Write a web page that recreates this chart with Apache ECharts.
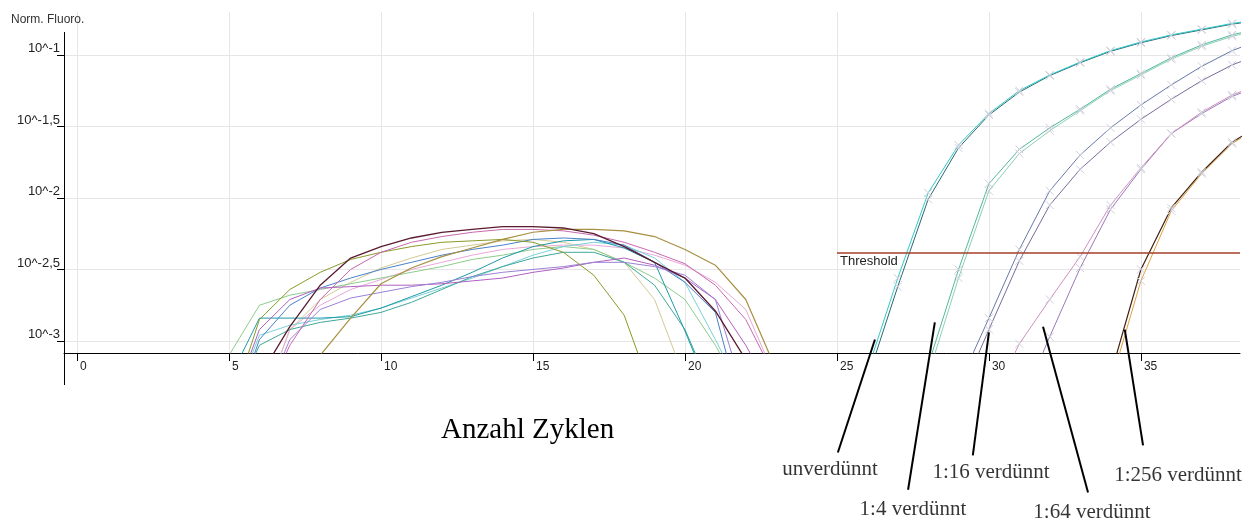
<!DOCTYPE html>
<html><head><meta charset="utf-8">
<script src="https://cdn.jsdelivr.net/npm/echarts@6/dist/echarts.min.js"></script>
<style>html,body{margin:0;padding:0;background:#fff}#c{width:1254px;height:520px}</style>
</head><body><div id="c"></div>
<script>
// ---- tick values / labels ----
const xTicks = [0, 5, 10, 15, 20, 25, 30, 35];
const yTicks = [-3, -2.5, -2, -1.5, -1];
const yTickLabels = ['10^-3', '10^-2,5', '10^-2', '10^-1,5', '10^-1'];

// ---- non-specific (negative) curves, log10 fluorescence at cycles 5..23 ----
const humpCycles = [5, 6, 7, 8, 9, 10, 11, 12, 13, 14, 15, 16, 17, 18, 19, 20, 21, 22, 23];
const neg01 = [null, -3.25, -2.90, -2.61, -2.42, -2.34, -2.28, -2.24, -2.22, -2.20, -2.20, -2.21, -2.25, -2.34, -2.45, -2.56, -2.79, -3.13, null];
const neg02 = [null, null, null, -3.10, -2.84, -2.60, -2.49, -2.41, -2.35, -2.29, -2.24, -2.22, -2.22, -2.23, -2.27, -2.36, -2.47, -2.71, -3.20];
const neg03 = [null, -3.50, -3.03, -2.71, -2.50, -2.38, -2.31, -2.27, -2.24, -2.22, -2.22, -2.23, -2.26, -2.31, -2.38, -2.46, -2.61, -2.85, -3.27];
const neg04 = [-3.50, -2.85, -2.64, -2.52, -2.43, -2.38, -2.34, -2.31, -2.30, -2.29, -2.31, -2.38, -2.54, -2.82, -3.41, null, null, null, null];
const neg05 = [null, -3.50, -2.92, -2.71, -2.59, -2.49, -2.42, -2.36, -2.33, -2.30, -2.29, -2.31, -2.36, -2.45, -2.71, -3.27, null, null, null];
const neg06 = [-3.27, -2.84, -2.84, -2.84, -2.83, -2.77, -2.69, -2.61, -2.52, -2.42, -2.34, -2.30, -2.29, -2.35, -2.45, -2.93, -3.45, null, null];
const neg07 = [-3.50, -2.96, -2.89, -2.85, -2.82, -2.77, -2.70, -2.63, -2.56, -2.48, -2.40, -2.34, -2.31, -2.33, -2.42, -2.59, -2.99, -3.41, null];
const neg08 = [-3.60, -2.99, -2.75, -2.63, -2.56, -2.50, -2.45, -2.40, -2.36, -2.33, -2.29, -2.28, -2.29, -2.33, -2.45, -2.59, -2.80, -3.60, null];
const neg09 = [-3.50, -2.92, -2.71, -2.63, -2.62, -2.61, -2.61, -2.60, -2.58, -2.56, -2.52, -2.49, -2.45, -2.42, -2.47, -2.56, -2.71, -3.03, -3.41];
const neg10 = [null, -3.50, -2.99, -2.78, -2.70, -2.66, -2.62, -2.59, -2.55, -2.52, -2.50, -2.48, -2.45, -2.45, -2.48, -2.54, -2.71, -3.41, null];
const neg11 = [-3.10, -2.75, -2.68, -2.64, -2.60, -2.56, -2.52, -2.48, -2.43, -2.40, -2.36, -2.34, -2.36, -2.45, -2.56, -2.71, -3.03, -3.41, null];
const neg12 = [-3.50, -3.03, -2.92, -2.87, -2.84, -2.80, -2.73, -2.64, -2.55, -2.48, -2.42, -2.38, -2.38, -2.45, -2.61, -2.92, -3.41, null, null];
const neg13 = [null, -3.50, -2.92, -2.75, -2.64, -2.57, -2.50, -2.45, -2.40, -2.36, -2.34, -2.33, -2.33, -2.35, -2.40, -2.47, -2.59, -2.78, -3.27];

// ---- dilution series, log10 fluorescence at cycles 25..39 ----
const ampCycles = [25, 26, 27, 28, 29, 30, 31, 32, 33, 34, 35, 36, 37, 38, 39];
const undilA = [-3.60, -3.21, -2.56, -1.965, -1.63, -1.41, -1.25, -1.14, -1.05, -0.97, -0.91, -0.86, -0.82, -0.78, -0.75];
const undilB = [-3.70, -3.27, -2.62, -2.01, -1.65, -1.42, -1.26, -1.145, -1.055, -0.975, -0.915, -0.865, -0.825, -0.785, -0.755];
const dil4A = [null, null, -3.70, -3.17, -2.50, -1.90, -1.66, -1.51, -1.38, -1.24, -1.13, -1.02, -0.93, -0.86, -0.81];
const dil4B = [null, null, -3.80, -3.24, -2.56, -1.95, -1.69, -1.53, -1.39, -1.25, -1.14, -1.03, -0.94, -0.87, -0.82];
const dil16A = [null, null, null, -3.80, -3.31, -2.84, -2.36, -1.95, -1.70, -1.51, -1.35, -1.21, -1.08, -0.97, -0.89];
const dil16B = [null, null, null, -3.90, -3.41, -2.92, -2.44, -2.05, -1.80, -1.61, -1.45, -1.31, -1.18, -1.07, -0.99];
const dil64A = [null, null, null, null, null, -3.45, -3.02, -2.71, -2.41, -2.05, -1.79, -1.55, -1.40, -1.28, -1.20];
const dil64B = [null, null, null, null, null, -3.90, -3.47, -2.97, -2.49, -2.08, -1.80, -1.55, -1.41, -1.29, -1.21];
const dil256A = [null, null, null, null, null, null, null, null, -3.60, -3.24, -2.50, -2.07, -1.82, -1.61, -1.48];
const dil256B = [null, null, null, null, null, null, null, null, -3.70, -3.30, -2.58, -2.09, -1.83, -1.62, -1.49];

// ---- threshold ----
const thresholdValue = -2.38;
const thresholdStartCycle = 25;

// ---- annotations (data units) ----
const annotLabels = ['unverdünnt', '1:4 verdünnt', '1:16 verdünnt', '1:64 verdünnt', '1:256 verdünnt'];
const annotTipX = [26.25, 28.22, 30.0, 31.78, 34.47];
const annotTipY = [-2.99, -2.87, -2.94, -2.90, -2.92];
const annotBaseX = [25.03, 27.34, 29.47, 33.26, 35.07];
const annotBaseY = [-3.78, -4.04, -3.80, -4.06, -3.73];
const annotTextX = [24.77, 27.50, 30.07, 33.39, 36.22];
const annotTextY = [-3.90, -4.18, -3.92, -4.20, -3.94];

const X_MIN = -0.43, X_MAX = 38.26, Y_MIN = -3.084, Y_MAX = -0.70;
const XMARK = 'path://M0 0L10 10M10 0L0 10';

function pts(cycles, vals) {
  const out = [];
  cycles.forEach((c, i) => { if (vals[i] !== null) out.push([c, vals[i]]); });
  return out;
}
function curve(cycles, vals, color, width, markers) {
  return {
    type: 'line', data: pts(cycles, vals), silent: true, animation: false,
    showSymbol: !!markers, showAllSymbol: true, symbol: XMARK, symbolSize: 8,
    itemStyle: { color: 'rgba(0,0,0,0)', borderColor: '#cfcfdc', borderWidth: 1 },
    lineStyle: { color: color, width: width }, z: 3
  };
}

const series = [
  curve(humpCycles, neg05, '#d2ca94', 1),
  curve(humpCycles, neg13, '#e8a8d8', 1),
  curve(humpCycles, neg11, '#8ccc8c', 1),
  curve(humpCycles, neg07, '#78d0d8', 1),
  curve(humpCycles, neg12, '#40a898', 1),
  curve(humpCycles, neg06, '#1e9aa8', 1),
  curve(humpCycles, neg08, '#4a80c8', 1),
  curve(humpCycles, neg09, '#b060c0', 1),
  curve(humpCycles, neg10, '#9a80d8', 1),
  curve(humpCycles, neg04, '#8a9a28', 1),
  curve(humpCycles, neg03, '#c868b0', 1),
  curve(humpCycles, neg02, '#a89040', 1.2),
  curve(humpCycles, neg01, '#5a1a30', 1.3),
  curve(ampCycles, undilB, '#2a6a70', 1, true),
  curve(ampCycles, undilA, '#30c8c8', 1, true),
  curve(ampCycles, dil4B, '#90d0b0', 1, true),
  curve(ampCycles, dil4A, '#50b8a0', 1, true),
  curve(ampCycles, dil16B, '#7a6a9a', 1, true),
  curve(ampCycles, dil16A, '#6878a8', 1, true),
  curve(ampCycles, dil64B, '#9a78b8', 1, true),
  curve(ampCycles, dil64A, '#d090c0', 1, true),
  curve(ampCycles, dil256B, '#e0a040', 1, true),
  curve(ampCycles, dil256A, '#402010', 1.2, true),
  {
    type: 'line', data: [], silent: true, animation: false,
    markLine: {
      silent: true, symbol: 'none', animation: false,
      lineStyle: { color: '#a5402a', width: 1.5, type: 'solid' },
      label: { show: true, position: 'insideStartBottom', formatter: 'Threshold', color: '#222',
               fontSize: 13, fontFamily: 'Liberation Sans', distance: 3 },
      data: [[{ coord: [thresholdStartCycle, thresholdValue] }, { coord: [X_MAX, thresholdValue] }]]
    }
  }
];
annotLabels.forEach((t, i) => {
  series.push({
    type: 'line', clip: false, silent: true, animation: false, symbol: 'none', z: 10,
    data: [[annotTipX[i], annotTipY[i]], [annotBaseX[i], annotBaseY[i]]],
    lineStyle: { color: '#000', width: 2 }
  });
});
series.push({
  type: 'scatter', clip: false, silent: true, animation: false, symbolSize: 1,
  itemStyle: { color: 'rgba(0,0,0,0)' },
  data: annotLabels.map((t, i) => ({ name: t, value: [annotTextX[i], annotTextY[i]] })),
  label: { show: true, position: 'inside', formatter: '{b}', color: '#000',
           fontFamily: 'Liberation Serif', fontSize: 21 }
});

const chart = echarts.init(document.getElementById('c'), null, { renderer: 'canvas' });
chart.setOption({
  animation: false,
  backgroundColor: '#fff',
  title: [
    { text: 'Anzahl Zyklen', left: 441, top: 416, padding: 0,
      textStyle: { fontFamily: 'Liberation Serif', fontSize: 29, fontWeight: 'normal', color: '#000' } },
    { text: 'Norm. Fluoro.', left: 11, top: 14, padding: 0,
      textStyle: { fontFamily: 'Liberation Sans', fontSize: 12, fontWeight: 'normal', color: '#333' } }
  ],
  grid: { left: 64, right: 14, top: 12, bottom: 167 },
  xAxis: {
    type: 'value', min: X_MIN, max: X_MAX,
    axisLine: { show: true, onZero: false, lineStyle: { color: '#000', width: 1 } },
    axisTick: { show: true, customValues: xTicks, length: 8, lineStyle: { color: '#000' } },
    axisLabel: { customValues: xTicks, align: 'left', margin: 8, padding: [0, 0, 0, 3],
                 fontSize: 12, color: '#222', fontFamily: 'Liberation Sans' },
    splitLine: { show: true, lineStyle: { color: '#e6e6e6', width: 1 } }
  },
  yAxis: {
    type: 'value', min: Y_MIN, max: Y_MAX,
    axisLine: { show: false, onZero: false },
    axisTick: { show: true, customValues: yTicks, length: 7, lineStyle: { color: '#000' } },
    axisLabel: {
      customValues: yTicks, verticalAlign: 'bottom', margin: 4, fontSize: 13, color: '#222',
      fontFamily: 'Liberation Sans',
      formatter: v => { const i = yTicks.findIndex(t => Math.abs(t - v) < 1e-6); return i >= 0 ? yTickLabels[i] : ''; }
    },
    splitLine: { show: true, lineStyle: { color: '#e6e6e6', width: 1 } }
  },
  graphic: [
    { type: 'line', silent: true, z: 100, shape: { x1: 64.5, y1: 32, x2: 64.5, y2: 385 },
      style: { stroke: '#000', lineWidth: 1 } }
  ],
  series: series
});
</script>
</body></html>
